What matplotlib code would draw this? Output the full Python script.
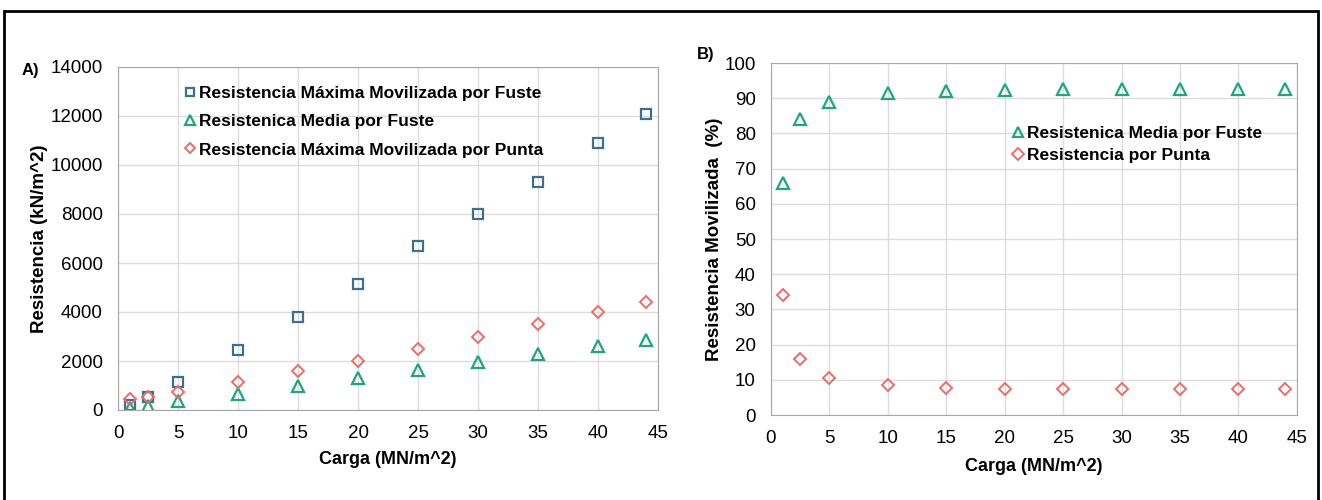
import matplotlib.pyplot as plt
from matplotlib.patches import Rectangle

# datos
carga = [1, 2.5, 5, 10, 15, 20, 25, 30, 35, 40, 44]
max_fuste = [200, 550, 1150, 2450, 3800, 5150, 6700, 8000, 9300, 10900, 12100]
media_fuste = [80, 150, 350, 650, 1000, 1300, 1650, 1950, 2300, 2600, 2850]
max_punta = [430, 550, 750, 1150, 1600, 2000, 2500, 3000, 3500, 4000, 4400]

pct_fuste = [66, 84, 89, 91.5, 92, 92.3, 92.6, 92.6, 92.5, 92.6, 92.6]
pct_punta = [34, 16, 10.5, 8.5, 7.8, 7.4, 7.3, 7.3, 7.3, 7.3, 7.3]

c_sq = '#3d6f8e'
c_tri = '#1fa67a'
c_dia = '#ec6b6b'

tick_font = ['Liberation Sans', 'DejaVu Sans']
lab_font = ['Liberation Sans', 'DejaVu Sans']

fig = plt.figure(figsize=(13.22, 5), dpi=100)
axA = fig.add_axes([0.0893, 0.18, 0.4084, 0.686])
axB = fig.add_axes([0.5832, 0.17, 0.3978, 0.704])


def style(ax):
    ax.grid(True, color='#dcdcdc', linewidth=1)
    ax.set_axisbelow(True)
    for s in ax.spines.values():
        s.set_color('#a6a6a6')
    ax.tick_params(length=0, pad=11, labelsize=13.5)
    for t in ax.get_xticklabels() + ax.get_yticklabels():
        t.set_family(tick_font)


axA.plot(carga, max_fuste, 's', mfc='none', mec=c_sq, ms=7.5, mew=1.6,
         label='Resistencia Máxima Movilizada por Fuste')
axA.plot(carga, media_fuste, '^', mfc='none', mec=c_tri, ms=8.5, mew=1.6,
         label='Resistenica Media por Fuste')
axA.plot(carga, max_punta, 'D', mfc='none', mec=c_dia, ms=6.5, mew=1.4,
         label='Resistencia Máxima Movilizada por Punta')
axA.set_xlim(0, 45)
axA.set_ylim(0, 14000)
axA.set_xticks(range(0, 50, 5))
axA.set_yticks(range(0, 16000, 2000))
style(axA)
axA.set_xlabel('Carga (MN/m^2)', fontsize=13, fontweight='bold', family=lab_font, labelpad=6)
axA.set_ylabel('Resistencia (kN/m^2)', fontsize=13.5, fontweight='bold', family=lab_font, labelpad=2)
axA.legend(loc='upper left', bbox_to_anchor=(0.095, 0.98), frameon=False, handletextpad=0.0,
           handlelength=1.0, labelspacing=0.75, borderaxespad=0.3, markerscale=0.8,
           prop={'family': lab_font, 'weight': 'bold', 'size': 12.5})

axB.plot(carga, pct_fuste, '^', mfc='none', mec=c_tri, ms=8.5, mew=1.6,
         label='Resistenica Media por Fuste')
axB.plot(carga, pct_punta, 'D', mfc='none', mec=c_dia, ms=6.5, mew=1.4,
         label='Resistencia por Punta')
axB.set_xlim(0, 45)
axB.set_ylim(0, 100)
axB.set_xticks(range(0, 50, 5))
axB.set_yticks(range(0, 110, 10))
style(axB)
axB.set_xlabel('Carga (MN/m^2)', fontsize=13, fontweight='bold', family=lab_font, labelpad=8)
axB.set_ylabel('Resistencia Movilizada  (%)', fontsize=13.5, fontweight='bold', family=lab_font, labelpad=1)
axB.legend(loc='upper left', bbox_to_anchor=(0.43, 0.855), frameon=False, handletextpad=0.0,
           handlelength=1.0, labelspacing=0.4, borderaxespad=0.3, markerscale=0.9,
           prop={'family': lab_font, 'weight': 'bold', 'size': 12.5})

fig.text(22 / 1322, 1 - 70 / 500, 'A)', fontsize=12, fontweight='bold', family=lab_font,
         va='center')
fig.text(697 / 1322, 1 - 55 / 500, 'B)', fontsize=12, fontweight='bold', family=lab_font,
         va='center')

fig.patches.append(Rectangle((4 / 1322, -0.02), 1314 / 1322, 1 - 11 / 500 + 0.02,
                             transform=fig.transFigure, fill=False, edgecolor='black',
                             linewidth=2))

fig.savefig('out.png', dpi=100)
